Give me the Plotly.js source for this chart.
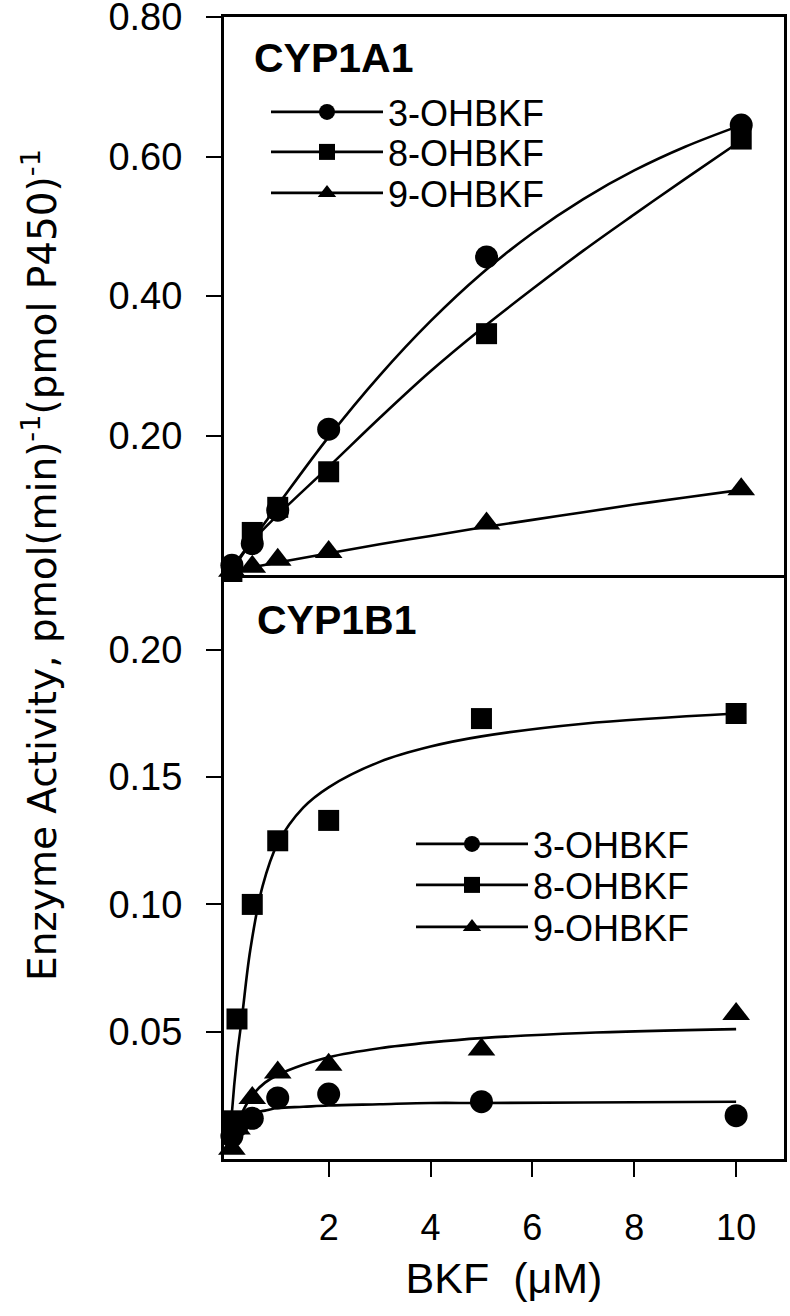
<!DOCTYPE html>
<html>
<head>
<meta charset="utf-8">
<script src="https://cdn.plot.ly/plotly-3.0.1.min.js"></script>
<style>
  html, body { margin: 0; padding: 0; background: #fff; }
  #chart { width: 790px; height: 1316px; }
</style>
</head>
<body>
<div id="chart"></div>
<script>
const seriesNames = ['3-OHBKF', '8-OHBKF', '9-OHBKF']
const symbols = ['circle', 'square', 'triangle-up']
const markerSizes = [23, 21, 24]

// CYP1A1 measured points
const x1a1 = [0.1, 0.5, 1, 2, 5.1, 10.1]
const oh3_1a1 = [0.014, 0.045, 0.093, 0.209, 0.456, 0.645]
const oh8_1a1 = [0.005, 0.061, 0.097, 0.148, 0.346, 0.625]
const oh9_1a1 = [0.006, 0.012, 0.022, 0.033, 0.074, 0.123]

// CYP1A1 fitted curves
const fitX1a1 = [0.1, 0.5, 1, 2, 3, 4, 5, 6, 7, 8, 9, 10.1]
const fit3_1a1 = [0.010, 0.050, 0.100, 0.198, 0.286, 0.364, 0.432, 0.490, 0.539, 0.580, 0.614, 0.645]
const fit8_1a1 = [0.006, 0.048, 0.086, 0.155, 0.225, 0.292, 0.353, 0.410, 0.465, 0.517, 0.568, 0.623]
const fit9_1a1 = [0.005, 0.011, 0.018, 0.031, 0.044, 0.056, 0.068, 0.079, 0.090, 0.101, 0.111, 0.122]

// CYP1B1 measured points
const x1b1 = [0.1, 0.2, 0.5, 1, 2, 5, 10]
const oh3_1b1 = [0.009, 0.013, 0.016, 0.024, 0.0255, 0.0225, 0.017]
const oh8_1b1 = [0.015, 0.055, 0.100, 0.125, 0.133, 0.173, 0.175]
const oh9_1b1 = [0.004, 0.012, 0.024, 0.034, 0.037, 0.043, 0.057]

// CYP1B1 fitted curves
const fitX8_1b1 = [0.06, 0.1, 0.2, 0.3, 0.46, 0.7, 1, 1.5, 2, 3, 4, 5, 7, 10]
const fit8_1b1 = [0.004, 0.018, 0.040, 0.056, 0.082, 0.107, 0.124, 0.138, 0.146, 0.156, 0.162, 0.166, 0.171, 0.175]
const fitX1b1 = [0.1, 0.25, 0.5, 0.75, 1, 1.5, 2, 3, 4, 5, 7, 10]
const fit3_1b1 = [0.010, 0.015, 0.018, 0.019, 0.020, 0.0205, 0.021, 0.0215, 0.022, 0.022, 0.0222, 0.0225]
const fit9_1b1 = [0.007, 0.016, 0.025, 0.030, 0.033, 0.037, 0.040, 0.0435, 0.0458, 0.0475, 0.0495, 0.051]

const xTicks = [2, 4, 6, 8, 10]
const yTicksTop = [0.2, 0.4, 0.6, 0.8]
const yTicksBottom = [0.05, 0.1, 0.15, 0.2]

// plot box in pixels, used to place legends / labels
const box = {l: 224, r: 784, t: 17, b: 1159, split: 575}
const px2x = (px) => (px - box.l) / (box.r - box.l)
const px2y = (py) => (box.b - py) / (box.b - box.t)

const SANS = 'Liberation Sans, Arial, sans-serif'
const black = '#000'

// isolated points, so the legend shows a line but no segments are drawn
const gapped = (a) => a.flatMap((v, i) => (i ? [null, v] : [v]))

const curve = (x, y, xa, ya) => ({
  x, y, xaxis: xa, yaxis: ya,
  type: 'scatter', mode: 'lines',
  line: {color: black, width: 2.6, shape: 'spline', smoothing: 1},
  showlegend: false, hoverinfo: 'skip',
})

const points = (x, y, i, xa, ya, legend) => ({
  x: gapped(x), y: gapped(y), xaxis: xa, yaxis: ya,
  type: 'scatter', mode: 'lines+markers',
  name: seriesNames[i],
  legend,
  line: {color: black, width: 2.6},
  marker: {symbol: symbols[i], size: markerSizes[i], color: black},
  cliponaxis: false,
})

const data = [
  curve(fitX1a1, fit3_1a1, 'x2', 'y2'),
  curve(fitX1a1, fit8_1a1, 'x2', 'y2'),
  curve(fitX1a1, fit9_1a1, 'x2', 'y2'),
  curve(fitX1b1, fit3_1b1, 'x', 'y'),
  curve(fitX8_1b1, fit8_1b1, 'x', 'y'),
  curve(fitX1b1, fit9_1b1, 'x', 'y'),
  points(x1a1, oh3_1a1, 0, 'x2', 'y2', 'legend'),
  points(x1a1, oh8_1a1, 1, 'x2', 'y2', 'legend2'),
  points(x1a1, oh9_1a1, 2, 'x2', 'y2', 'legend3'),
  points(x1b1, oh3_1b1, 0, 'x', 'y', 'legend4'),
  points(x1b1, oh8_1b1, 1, 'x', 'y', 'legend5'),
  points(x1b1, oh9_1b1, 2, 'x', 'y', 'legend6'),
]

const legendAt = (xpx, ypx) => ({
  x: px2x(xpx), xanchor: 'left',
  y: px2y(ypx), yanchor: 'middle',
  bgcolor: 'rgba(0,0,0,0)',
  borderwidth: 0,
  itemwidth: 112,
  itemsizing: 'trace',
  font: {family: SANS, size: 36, color: black},
})

const splitY = px2y(box.split)
const xRange = [-0.055, 10.94]

const axisBase = {
  showline: true,
  linewidth: 3,
  linecolor: black,
  showgrid: false,
  zeroline: false,
  ticks: 'outside',
  ticklen: 15,
  tickwidth: 2,
  tickcolor: black,
  ticklabeloverflow: 'allow',
}

const layout = {
  width: 790,
  height: 1316,
  margin: {l: box.l, r: 790 - box.r, t: box.t, b: 1316 - box.b, pad: 0},
  paper_bgcolor: '#fff',
  plot_bgcolor: '#fff',
  font: {family: SANS, color: black},
  xaxis: {
    ...axisBase,
    anchor: 'y',
    range: xRange,
    tickvals: xTicks,
    ticktext: xTicks.map(String),
    tickfont: {family: SANS, size: 36},
    ticklabelstandoff: 20,
    title: {text: 'BKF\u00a0 (\u03bcM)', font: {family: SANS, size: 43}, standoff: 16},
  },
  xaxis2: {
    ...axisBase,
    anchor: 'y2',
    matches: 'x',
    range: xRange,
    mirror: true,
    ticks: '',
    showticklabels: false,
  },
  yaxis: {
    ...axisBase,
    anchor: 'x',
    domain: [0, splitY],
    range: [0, 0.2294],
    mirror: true,
    tickvals: yTicksBottom,
    ticktext: yTicksBottom.map((v) => v.toFixed(2)),
    tickfont: {family: SANS, size: 38},
    ticklabelstandoff: 16,
  },
  yaxis2: {
    ...axisBase,
    anchor: 'x2',
    domain: [splitY, 1],
    range: [0, 0.8],
    mirror: true,
    tickvals: yTicksTop,
    ticktext: yTicksTop.map((v) => v.toFixed(2)),
    tickfont: {family: SANS, size: 38},
    ticklabelstandoff: 16,
  },
  legend: legendAt(266, 112),
  legend2: legendAt(266, 152),
  legend3: legendAt(266, 193),
  legend4: legendAt(411, 844),
  legend5: legendAt(411, 885),
  legend6: legendAt(411, 927),
  annotations: [
    {
      text: '<b>CYP1A1</b>', xref: 'paper', yref: 'paper',
      x: px2x(252), y: px2y(58), xanchor: 'left', yanchor: 'middle',
      showarrow: false, font: {family: SANS, size: 41, color: black},
    },
    {
      text: '<b>CYP1B1</b>', xref: 'paper', yref: 'paper',
      x: px2x(255), y: px2y(620), xanchor: 'left', yanchor: 'middle',
      showarrow: false, font: {family: SANS, size: 41, color: black},
    },
    {
      text: 'Enzyme Activity, pmol(min)<sup>-1</sup>(pmol P450)<sup>-1</sup>',
      xref: 'paper', yref: 'paper',
      x: px2x(40), y: px2y(565), xanchor: 'center', yanchor: 'middle',
      textangle: -90, showarrow: false,
      font: {family: 'DejaVu Sans, sans-serif', size: 39, color: black},
    },
  ],
}

Plotly.newPlot('chart', data, layout, {displayModeBar: false, staticPlot: true})
</script>
</body>
</html>
